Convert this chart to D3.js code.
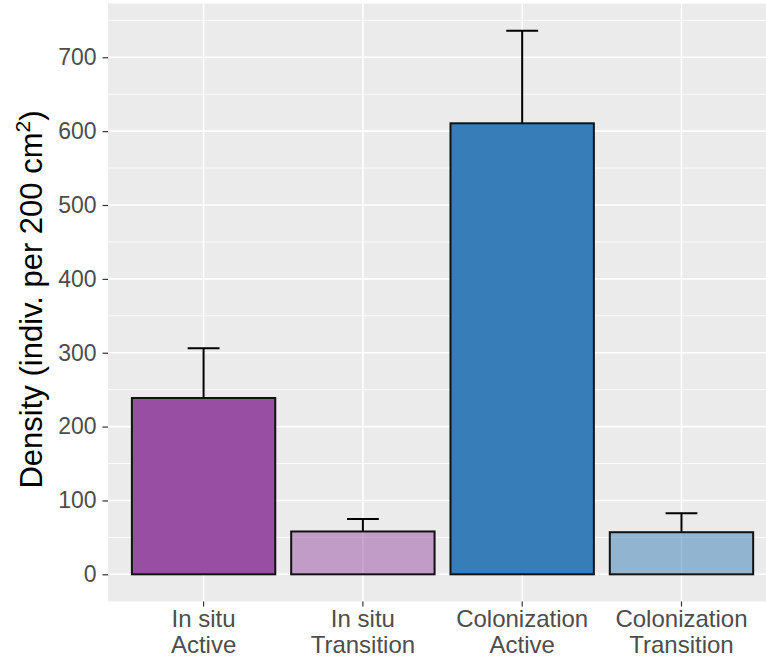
<!DOCTYPE html>
<html>
<head>
<meta charset="utf-8">
<script src="https://cdn.jsdelivr.net/npm/d3@7"></script>
<style>
  html, body { margin: 0; padding: 0; background: #fff; }
  svg { display: block; font-family: "Liberation Sans", Arial, sans-serif; }
</style>
</head>
<body>
<svg id="chart" width="766" height="657"></svg>
<script>
// ---- data ----
const categories = ["In situ\nActive", "In situ\nTransition", "Colonization\nActive", "Colonization\nTransition"];
const means = [238.7, 58, 610.6, 57];
const upper = [306, 75, 736, 82.6];
const fills = ["#984EA3", "#984EA3", "#377EB8", "#377EB8"];
const fillOpacity = [1, 0.5, 1, 0.5];
const yTicks = [0, 100, 200, 300, 400, 500, 600, 700];
const yMinor = [50, 150, 250, 350, 450, 550, 650, 750];

// ---- layout ----
const svg = d3.select("#chart");
const panel = { left: 108, top: 3.5, bottom: 601.5 };
const yMax = d3.max(upper);
const expand = 0.05 * yMax;

const y = d3.scaleLinear()
  .domain([-expand, yMax + expand])
  .range([panel.bottom, panel.top]);

const step = 159.3;
const x = d3.scaleBand()
  .domain(categories)
  .range([panel.left, panel.left + 4.2 * step])
  .paddingInner(0.1)
  .paddingOuter(0.15);

const panelRight = panel.left + 4.2 * step;

// panel background
svg.append("rect")
  .attr("x", panel.left).attr("y", panel.top)
  .attr("width", panelRight - panel.left)
  .attr("height", panel.bottom - panel.top)
  .attr("fill", "#EBEBEB");

// minor grid
svg.append("g").selectAll("line").data(yMinor).join("line")
  .attr("x1", panel.left).attr("x2", panelRight)
  .attr("y1", d => y(d)).attr("y2", d => y(d))
  .attr("stroke", "#fff").attr("stroke-width", 0.8);

// major grid
svg.append("g").selectAll("line").data(yTicks).join("line")
  .attr("x1", panel.left).attr("x2", panelRight)
  .attr("y1", d => y(d)).attr("y2", d => y(d))
  .attr("stroke", "#fff").attr("stroke-width", 1.6);

svg.append("g").selectAll("line").data(categories).join("line")
  .attr("x1", d => x(d) + x.bandwidth() / 2).attr("x2", d => x(d) + x.bandwidth() / 2)
  .attr("y1", panel.top).attr("y2", panel.bottom)
  .attr("stroke", "#fff").attr("stroke-width", 1.6);

// error bars (upper only)
const eb = svg.append("g");
categories.forEach((c, i) => {
  const cx = x(c) + x.bandwidth() / 2;
  const hw = 0.1 * x.step();
  eb.append("line")
    .attr("x1", cx).attr("x2", cx)
    .attr("y1", y(means[i])).attr("y2", y(upper[i]))
    .attr("stroke", "#000").attr("stroke-width", 2);
  eb.append("line")
    .attr("x1", cx - hw).attr("x2", cx + hw)
    .attr("y1", y(upper[i])).attr("y2", y(upper[i]))
    .attr("stroke", "#000").attr("stroke-width", 2);
});

// bars
svg.append("g").selectAll("rect").data(categories).join("rect")
  .attr("x", d => x(d))
  .attr("width", x.bandwidth())
  .attr("y", (d, i) => y(means[i]))
  .attr("height", (d, i) => y(0) - y(means[i]))
  .attr("fill", (d, i) => fills[i])
  .attr("fill-opacity", (d, i) => fillOpacity[i])
  .attr("stroke", "#111")
  .attr("stroke-width", 2);

// y axis
const yAxis = d3.axisLeft(y).tickValues(yTicks).tickSize(5.5).tickPadding(6);
const gy = svg.append("g").attr("transform", `translate(${panel.left},0)`).call(yAxis);
gy.select(".domain").remove();
gy.selectAll(".tick line").attr("stroke", "#333").attr("stroke-width", 1.2);
gy.selectAll(".tick text")
  .attr("fill", "#4D4D4D")
  .style("font-size", "23px")
  .style("font-family", '"Liberation Sans", Arial, sans-serif');

// x axis
const xAxis = d3.axisBottom(x).tickSize(5).tickFormat("");
const gx = svg.append("g").attr("transform", `translate(0,${panel.bottom})`).call(xAxis);
gx.select(".domain").remove();
gx.selectAll(".tick line").attr("stroke", "#333").attr("stroke-width", 1.2);

const xl = svg.append("g");
categories.forEach(c => {
  const cx = x(c) + x.bandwidth() / 2;
  const lines = c.split("\n");
  const t = xl.append("text")
    .attr("text-anchor", "middle")
    .attr("fill", "#4D4D4D")
    .style("font-size", "24px");
  lines.forEach((ln, j) => {
    t.append("tspan").attr("x", cx).attr("y", 627 + j * 25.5).text(ln);
  });
});

// y title
const yt = svg.append("text")
  .attr("transform", `translate(42,${(panel.top + panel.bottom) / 2 - 3}) rotate(-90)`)
  .attr("text-anchor", "middle")
  .attr("fill", "#000")
  .style("font-size", "31px");
yt.append("tspan").text("Density (indiv. per 200 cm");
yt.append("tspan").attr("dy", -12).style("font-size", "21px").text("2");
yt.append("tspan").attr("dy", 12).text(")");
</script>
</body>
</html>
